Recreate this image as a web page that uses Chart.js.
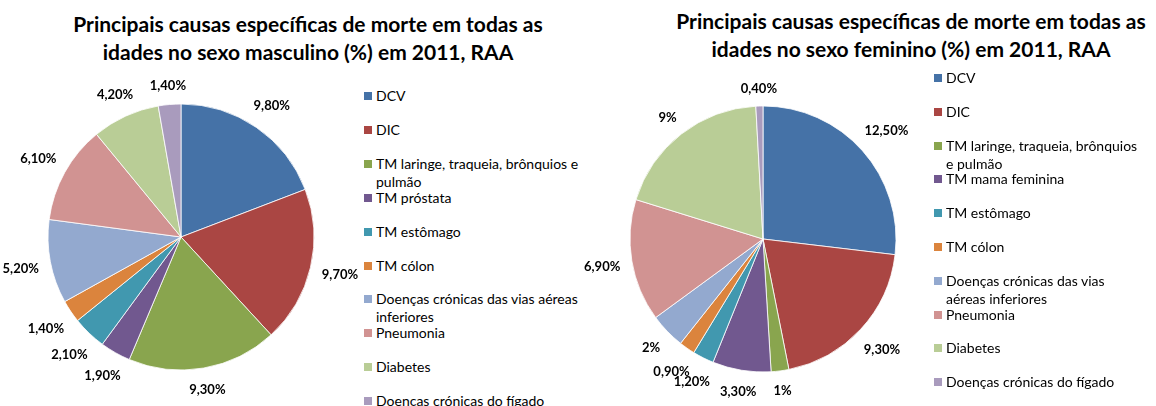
<!DOCTYPE html>
<html>
<head>
<meta charset="utf-8">
<script src="https://cdn.jsdelivr.net/npm/chart.js@4.4.1/dist/chart.umd.min.js"></script>
<style>
body{margin:0;width:1156px;height:406px;overflow:hidden;background:#fff;font-family:Lato,"Open Sans",sans-serif;position:relative}
.title{position:absolute;width:600px;font-weight:bold;font-size:21px;line-height:28px;text-align:center;color:#000;white-space:nowrap}
canvas{position:absolute}
.legend{position:absolute;top:0;font-size:14px;color:#000}
.legend .item{position:absolute;left:0;white-space:nowrap;line-height:18px}
.legend .box{position:absolute;left:0;top:5px;width:8px;height:8px}
.legend .txt{position:absolute;left:12px;top:0}
</style>
</head>
<body>
<div class="title" style="left:8px;top:10px">Principais causas específicas de morte em todas as<br>idades no sexo masculino (%) em 2011, RAA</div>
<div class="title" style="left:611px;top:7px">Principais causas específicas de morte em todas as<br>idades no sexo feminino (%) em 2011, RAA</div>
<canvas id="pieM" width="362" height="340" style="left:0;top:67px"></canvas>
<canvas id="pieF" width="362" height="340" style="left:582px;top:69px"></canvas>
<div class="legend" id="legM" style="left:364px"></div>
<div class="legend" id="legF" style="left:934px"></div>
<script>
// categorias (linhas quebradas como no original)
const categoriesM = ['DCV','DIC',['TM laringe, traqueia, brônquios e','pulmão'],'TM próstata','TM estômago','TM cólon',['Doenças crónicas das vias aéreas','inferiores'],'Pneumonia','Diabetes','Doenças crónicas do fígado'];
const categoriesF = ['DCV','DIC',['TM laringe, traqueia, brônquios','e pulmão'],'TM mama feminina','TM estômago','TM cólon',['Doenças crónicas das vias','aéreas inferiores'],'Pneumonia','Diabetes','Doenças crónicas do fígado'];
const valuesM = [9.8,9.7,9.3,1.9,2.1,1.4,5.2,6.1,4.2,1.4];
const valuesF = [12.5,9.3,1,3.3,1.2,0.9,2,6.9,9,0.4];
const colors = ['#4572A7','#AA4643','#89A54E','#71588F','#4198AF','#DB843D','#93A9CF','#D19392','#B9CD96','#A99BBD'];

function fmt(v){
    if (Number.isInteger(v)) return v + '%';
    return v.toFixed(2).replace('.', ',') + '%';
}

const outsideLabels = {
    id: 'outsideLabels',
    afterDatasetsDraw(chart){
        const ctx = chart.ctx;
        const meta = chart.getDatasetMeta(0);
        const vals = chart.data.datasets[0].data;
        ctx.save();
        ctx.font = 'bold 13px Lato';
        ctx.fillStyle = '#000';
        ctx.textAlign = 'center';
        ctx.textBaseline = 'middle';
        meta.data.forEach(function(arc, i){
            const p = arc.getProps(['x','y','startAngle','endAngle','outerRadius'], true);
            const mid = (p.startAngle + p.endAngle) / 2;
            const txt = fmt(vals[i]);
            const w = ctx.measureText(txt).width;
            const cx = Math.cos(mid), cy = Math.sin(mid);
            const d = p.outerRadius + 11 + Math.abs(cx) * w / 2 + Math.abs(cy) * 7;
            ctx.fillText(txt, p.x + cx * d, p.y + cy * d + 1);
        });
        ctx.restore();
    }
};

function build_pie(id, values, cats){
    new Chart(document.getElementById(id), {
        type: 'pie',
        data: {
            labels: cats.map(function(c){ return [].concat(c).join(' '); }),
            datasets: [{
                data: values,
                backgroundColor: colors,
                borderColor: '#fff',
                borderWidth: 0.8,
                radius: 133,
                hoverOffset: 0
            }]
        },
        options: {
            responsive: false,
            animation: false,
            events: [],
            layout: {padding: 0},
            plugins: {legend: {display: false}, tooltip: {enabled: false}}
        },
        plugins: [outsideLabels]
    });
}

function build_legend(id, cats, first, step){
    const box = document.getElementById(id);
    for (var i = 0; i < cats.length; i++){
        let item = document.createElement('div');
        item.setAttribute('class', 'item');
        item.style.top = (first - 9 + i * step) + 'px';
        let sq = document.createElement('div');
        sq.setAttribute('class', 'box');
        sq.style.background = colors[i];
        let t = document.createElement('div');
        t.setAttribute('class', 'txt');
        t.innerHTML = [].concat(cats[i]).join('<br>');
        item.append(sq);
        item.append(t);
        box.append(item);
    }
}

build_pie('pieM', valuesM, categoriesM);
build_pie('pieF', valuesF, categoriesF);
build_legend('legM', categoriesM, 96, 33.9);
build_legend('legF', categoriesF, 78, 33.8);
</script>
</body>
</html>
